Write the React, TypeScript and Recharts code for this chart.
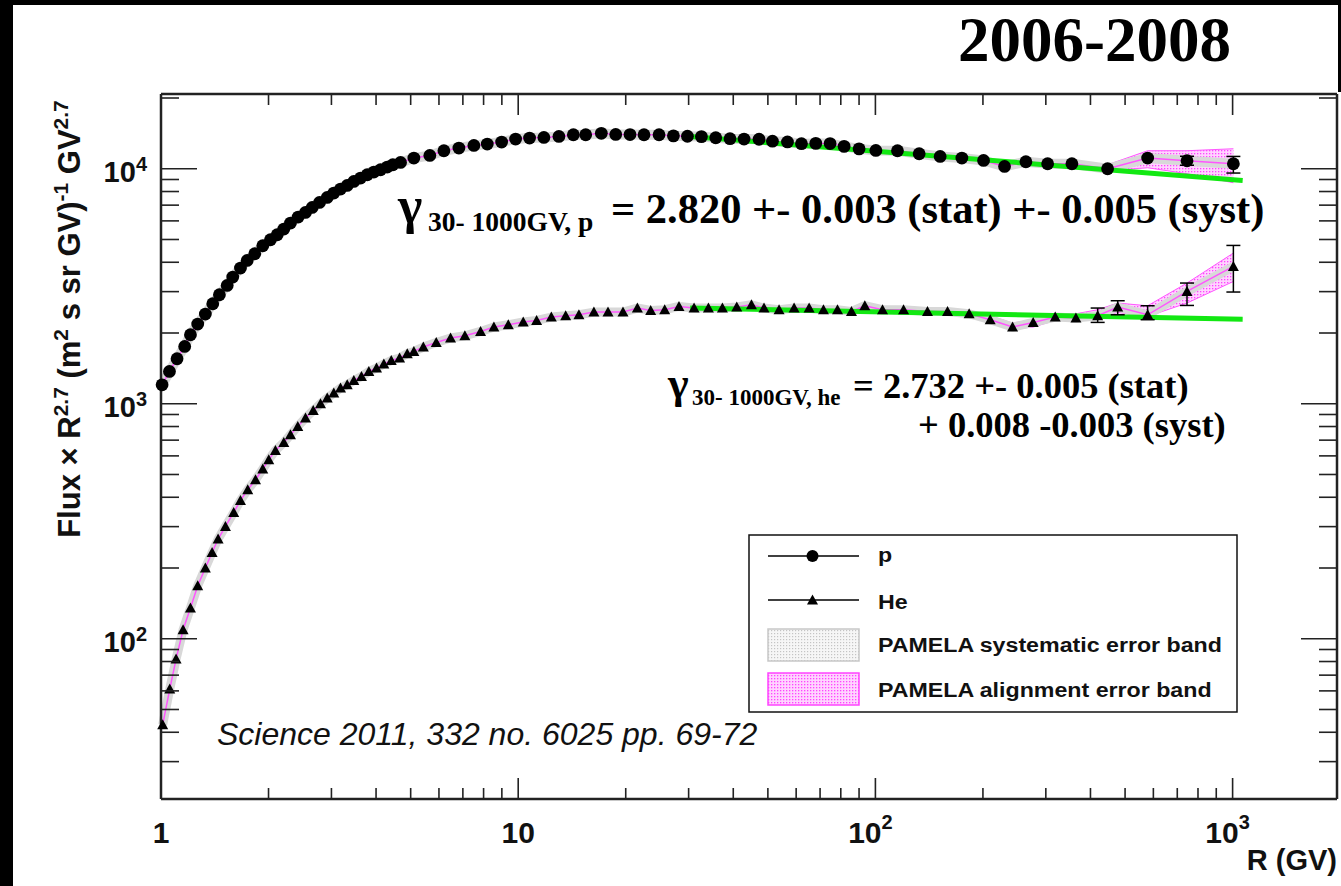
import React from "react";
import { ComposedChart, Line, Area, XAxis, YAxis, ErrorBar } from "recharts";

const W = 1341;
const H = 886;
const X_DOMAIN = [1, 1960];
const Y_DOMAIN = [20.8, 20800];

const X_TICKS = [1, 2, 3, 4, 5, 6, 7, 8, 9, 10, 20, 30, 40, 50, 60, 70, 80, 90, 100, 200, 300, 400, 500, 600, 700, 800, 900, 1000];
const X_MAJOR = [1, 10, 100, 1000];
const X_LABEL_BASE = ["1", "10", "10", "10"];
const X_LABEL_EXP = ["", "", "2", "3"];

const Y_TICKS = [30, 40, 50, 60, 70, 80, 90, 100, 200, 300, 400, 500, 600, 700, 800, 900, 1000, 2000, 3000, 4000, 5000, 6000, 7000, 8000, 9000, 10000, 20000];
const Y_MAJOR = [100, 1000, 10000];
const Y_LABEL_EXP = ["2", "3", "4"];

// protons
const P_R = [1.007, 1.056, 1.109, 1.165, 1.209, 1.267, 1.331, 1.396, 1.457, 1.532, 1.588, 1.669, 1.743, 1.83, 1.927, 2.025, 2.115, 2.207, 2.304, 2.421, 2.538, 2.65, 2.778, 2.92, 3.046, 3.181, 3.321, 3.466, 3.619, 3.779, 3.943, 4.117, 4.298, 4.457, 4.684, 5.104, 5.657, 6.194, 6.823, 7.515, 8.192, 8.987, 9.833, 10.76, 11.8, 13.0, 14.27, 15.45, 17.09, 18.75, 20.56, 22.5, 24.79, 27.2, 29.77, 32.58, 35.73, 39.17, 42.88, 47.23, 51.5, 56.73, 62.09, 68.09, 74.67, 81.73, 90.01, 100.3, 115.3, 132.6, 151.8, 174.6, 200.8, 229.9, 263.8, 303.5, 354.9, 446.7, 578.3, 745.3, 1005];
const P_FLUX = [1204, 1372, 1554, 1753, 1966, 2183, 2408, 2664, 2910, 3187, 3461, 3780, 4072, 4347, 4702, 4988, 5237, 5538, 5873, 6228, 6516, 6843, 7187, 7548, 7880, 8196, 8490, 8831, 9129, 9430, 9683, 9902, 10167, 10399, 10636, 11103, 11392, 11930, 12250, 12566, 12740, 12992, 13379, 13510, 13591, 13724, 13953, 13950, 14150, 14000, 13980, 13950, 13950, 13800, 13750, 13700, 13550, 13420, 13380, 13350, 13100, 13000, 12780, 12820, 12800, 12450, 12150, 11966, 11930, 11584, 11282, 11103, 10846, 10228, 10710, 10503, 10503, 10000, 11103, 10814, 10503];

// helium
const HE_R = [1.011, 1.058, 1.102, 1.153, 1.209, 1.267, 1.331, 1.39, 1.445, 1.515, 1.598, 1.669, 1.749, 1.839, 1.927, 2.003, 2.091, 2.207, 2.304, 2.415, 2.538, 2.668, 2.796, 2.92, 3.046, 3.181, 3.321, 3.466, 3.641, 3.818, 4.012, 4.206, 4.412, 4.655, 4.891, 5.104, 5.425, 5.896, 6.465, 7.091, 7.846, 8.55, 9.382, 10.33, 11.26, 12.38, 13.58, 14.79, 16.29, 17.84, 19.65, 21.56, 23.49, 25.71, 28.19, 31.07, 34.08, 37.3, 40.91, 44.98, 48.77, 53.74, 59.21, 65.23, 71.55, 78.32, 85.71, 93.4, 104.7, 119.9, 139.9, 159.2, 183.0, 209.6, 242.1, 276.5, 318.7, 364.2, 419.0, 476.8, 578.3, 745.3, 1005];
const HE_FLUX = [43.1, 61.1, 81.9, 109.2, 135.1, 168.1, 199.9, 232.9, 265.7, 300.6, 344.8, 387.7, 430.5, 474.9, 527.4, 577.8, 632.9, 684.4, 738.1, 800.9, 869.4, 935, 1000, 1058, 1110, 1166, 1205, 1257, 1307, 1372, 1419, 1475, 1529, 1565, 1633, 1670, 1743, 1823, 1904, 1947, 2031, 2120, 2169, 2227, 2262, 2338, 2368, 2391, 2455, 2455, 2455, 2554, 2495, 2512, 2594, 2554, 2554, 2554, 2579, 2638, 2554, 2512, 2554, 2554, 2512, 2512, 2471, 2612, 2512, 2512, 2471, 2471, 2415, 2278, 2120, 2218, 2338, 2315, 2368, 2579, 2391, 3006, 3839];

// error bars (low / high ends)
const P_ERR_R = [745.3, 1005];
const P_ERR_LO = [10350, 9587];
const P_ERR_HI = [11300, 11282];
const HE_ERR_R = [419.0, 476.8, 578.3, 745.3, 1005];
const HE_ERR_LO = [2219, 2391, 2278, 2620, 2988];
const HE_ERR_HI = [2554, 2744, 2612, 3263, 4717];

// alignment error band (pink)
const P_BAND_R = [200.8, 229.9, 263.8, 303.5, 354.9, 446.7, 578.3, 745.3, 1005];
const P_BAND_LO = [10600, 10000, 10300, 10200, 10197, 9806, 10099, 9522, 8717];
const P_BAND_HI = [11100, 10550, 10950, 10710, 10710, 10399, 11930, 11930, 12164];
const HE_BAND_R = [183.0, 209.6, 242.1, 276.5, 318.7, 364.2, 419.0, 476.8, 578.3, 745.3, 1005];
const HE_BAND_LO = [2345, 2219, 2079, 2120, 2262, 2262, 2315, 2446, 2352, 2682, 3314];
const HE_BAND_HI = [2487, 2368, 2205, 2278, 2391, 2415, 2512, 2682, 2612, 3263, 4378];

// power law fits 30-1000 GV
const P_FIT_R = [30.3, 1067];
const P_FIT_FLUX = [13720, 8915];
const HE_FIT_R = [30.3, 1067];
const HE_FIT_FLUX = [2553, 2290];

const pData = P_R.map((r, i) => ({ r, flux: P_FLUX[i] }));
const heData = HE_R.map((r, i) => ({ r, flux: HE_FLUX[i] }));
const pErr = P_ERR_R.map((r, i) => {
  const f = P_FLUX[P_R.indexOf(r)];
  return { r, flux: f, err: [f - P_ERR_LO[i], P_ERR_HI[i] - f] };
});
const heErr = HE_ERR_R.map((r, i) => {
  const f = HE_FLUX[HE_R.indexOf(r)];
  return { r, flux: f, err: [f - HE_ERR_LO[i], HE_ERR_HI[i] - f] };
});
const pBand = P_BAND_R.map((r, i) => ({ r, range: [P_BAND_LO[i], P_BAND_HI[i]] }));
const heBand = HE_BAND_R.map((r, i) => ({ r, range: [HE_BAND_LO[i], HE_BAND_HI[i]] }));
const pFit = P_FIT_R.map((r, i) => ({ r, flux: P_FIT_FLUX[i] }));
const heFit = HE_FIT_R.map((r, i) => ({ r, flux: HE_FIT_FLUX[i] }));

const FRAME = "#222";
const SANS = "'Liberation Sans', Arial, sans-serif";
const SERIF = "'Liberation Serif', 'Times New Roman', serif";
const AXIS = { stroke: FRAME, strokeWidth: 2.5 };

function BottomTick(p: any) {
  const i = X_MAJOR.indexOf(p.payload.value);
  const major = i >= 0;
  return (
    <g>
      <line x1={p.x} x2={p.x} y1={p.y} y2={p.y - (major ? 21 : 11)} stroke={FRAME} strokeWidth={1.6} />
      {major && (
        <text x={p.x + (X_LABEL_EXP[i] ? -5 : 0)} y={843} textAnchor="middle" fontFamily={SANS} fontWeight="bold" fontSize={30} fill="#111">
          {X_LABEL_BASE[i]}
          {X_LABEL_EXP[i] && (
            <tspan dy={-14} fontSize={20}>
              {X_LABEL_EXP[i]}
            </tspan>
          )}
        </text>
      )}
    </g>
  );
}

function TopTick(p: any) {
  const major = X_MAJOR.includes(p.payload.value);
  return <line x1={p.x} x2={p.x} y1={p.y} y2={p.y + (major ? 21 : 11)} stroke={FRAME} strokeWidth={1.6} />;
}

function LeftTick(p: any) {
  const i = Y_MAJOR.indexOf(p.payload.value);
  const major = i >= 0;
  return (
    <g>
      <line x1={p.x} x2={p.x + (major ? 36 : 18)} y1={p.y} y2={p.y} stroke={FRAME} strokeWidth={1.6} />
      {major && (
        <text x={147} y={p.y + 13} textAnchor="end" fontFamily={SANS} fontWeight="bold" fontSize={29} fill="#111">
          10
          <tspan dy={-11} fontSize={20}>
            {Y_LABEL_EXP[i]}
          </tspan>
        </text>
      )}
    </g>
  );
}

function RightTick(p: any) {
  const major = Y_MAJOR.includes(p.payload.value);
  return <line x1={p.x} x2={p.x - (major ? 36 : 18)} y1={p.y} y2={p.y} stroke={FRAME} strokeWidth={1.6} />;
}

function Circle(p: any) {
  if (p.cx == null || p.cy == null) return <g key={`c${p.index}`} />;
  return <circle key={`c${p.index}`} cx={p.cx} cy={p.cy} r={6.4} fill="#000" />;
}

function Tri(p: any) {
  if (p.cx == null || p.cy == null) return <g key={`t${p.index}`} />;
  const { cx, cy } = p;
  return <polygon key={`t${p.index}`} points={`${cx - 5.5},${cy + 4.5} ${cx + 5.5},${cy + 4.5} ${cx},${cy - 5.5}`} fill="#000" />;
}

const axisIds = { xAxisId: "b", yAxisId: "l" };

export default function App() {
  return (
    <div style={{ position: "relative", width: W, height: H, background: "#fff", overflow: "hidden" }}>
      <style>{"body{margin:0}"}</style>
      <div style={{ position: "absolute", left: 0, top: 0, width: 13, height: H, background: "#000" }} />
      <div style={{ position: "absolute", left: 0, top: 0, width: W, height: 5, background: "#000" }} />
      <div style={{ position: "absolute", left: 1338, top: 0, width: 3, height: 92, background: "#000" }} />

      <svg width={0} height={0} style={{ position: "absolute" }}>
        <defs>
          <pattern id="pinkDots" width="3" height="3" patternUnits="userSpaceOnUse">
            <rect width="3" height="3" fill="#ffd4ff" />
            <rect width="1.3" height="1.3" fill="#ff44ff" />
          </pattern>
          <pattern id="greyDots" width="3" height="3" patternUnits="userSpaceOnUse">
            <rect width="3" height="3" fill="#f6f6f6" />
            <rect width="1.2" height="1.2" fill="#c4c4c4" />
          </pattern>
        </defs>
      </svg>

      <div style={{ position: "absolute", left: 0, top: 0 }}>
        <ComposedChart width={W} height={H} margin={{ top: 93, right: 3, bottom: 0, left: 160 }}>
          <XAxis xAxisId="b" dataKey="r" type="number" scale="log" domain={X_DOMAIN} ticks={X_TICKS} interval={0} height={87} tickSize={0} tickMargin={0} tickLine={false} axisLine={AXIS} tick={BottomTick} />
          <XAxis xAxisId="t" orientation="top" dataKey="r" type="number" scale="log" domain={X_DOMAIN} ticks={X_TICKS} interval={0} height={1} tickSize={0} tickMargin={0} tickLine={false} axisLine={AXIS} tick={TopTick} />
          <YAxis yAxisId="l" type="number" scale="log" domain={Y_DOMAIN} ticks={Y_TICKS} interval={0} width={1} tickSize={0} tickMargin={0} tickLine={false} axisLine={AXIS} tick={LeftTick} />
          <YAxis yAxisId="r" orientation="right" type="number" scale="log" domain={Y_DOMAIN} ticks={Y_TICKS} interval={0} width={1} tickSize={0} tickMargin={0} tickLine={false} axisLine={AXIS} tick={RightTick} />

          {/* keeps the top and right frame axes bound to a series */}
          <Line xAxisId="t" yAxisId="r" data={pFit} dataKey="flux" stroke="none" dot={false} activeDot={false} isAnimationActive={false} />

          {/* systematic band, drawn as a light halo along the data */}
          <Line {...axisIds} data={pData} dataKey="flux" stroke="#d8d8d8" strokeWidth={10} strokeLinejoin="round" dot={false} activeDot={false} isAnimationActive={false} />
          <Line {...axisIds} data={heData} dataKey="flux" stroke="#d8d8d8" strokeWidth={9} strokeLinejoin="round" dot={false} activeDot={false} isAnimationActive={false} />

          <Area {...axisIds} data={pBand} dataKey="range" type="linear" stroke="#ff55ff" strokeWidth={1} fill="url(#pinkDots)" fillOpacity={1} isAnimationActive={false} />
          <Area {...axisIds} data={heBand} dataKey="range" type="linear" stroke="#ff55ff" strokeWidth={1} fill="url(#pinkDots)" fillOpacity={1} isAnimationActive={false} />

          <Line {...axisIds} data={pData} dataKey="flux" stroke="#ff55ff" strokeWidth={1.5} dot={false} activeDot={false} isAnimationActive={false} />
          <Line {...axisIds} data={heData} dataKey="flux" stroke="#ff55ff" strokeWidth={1.5} dot={false} activeDot={false} isAnimationActive={false} />

          <Line {...axisIds} data={pFit} dataKey="flux" stroke="#12e812" strokeWidth={5} dot={false} activeDot={false} isAnimationActive={false} />
          <Line {...axisIds} data={heFit} dataKey="flux" stroke="#12e812" strokeWidth={5} dot={false} activeDot={false} isAnimationActive={false} />

          <Line {...axisIds} data={pErr} dataKey="flux" stroke="none" dot={false} activeDot={false} isAnimationActive={false}>
            <ErrorBar dataKey="err" width={7} stroke="#000" strokeWidth={1.5} direction="y" />
          </Line>
          <Line {...axisIds} data={heErr} dataKey="flux" stroke="none" dot={false} activeDot={false} isAnimationActive={false}>
            <ErrorBar dataKey="err" width={7} stroke="#000" strokeWidth={1.5} direction="y" />
          </Line>

          <Line {...axisIds} data={pData} dataKey="flux" stroke="none" dot={Circle} activeDot={false} isAnimationActive={false} />
          <Line {...axisIds} data={heData} dataKey="flux" stroke="none" dot={Tri} activeDot={false} isAnimationActive={false} />
        </ComposedChart>
      </div>

      <svg width={W} height={H} style={{ position: "absolute", left: 0, top: 0, pointerEvents: "none" }}>
        <text x={958} y={61} fontFamily={SERIF} fontWeight="bold" fontSize={63} fill="#000">
          2006-2008
        </text>

        <text transform="translate(80,319) rotate(-90)" textAnchor="middle" fontFamily={SANS} fontWeight="bold" fontSize={31} fill="#111">
          Flux × R<tspan dy={-12} fontSize={21}>2.7</tspan>
          <tspan dy={12}> (m</tspan>
          <tspan dy={-12} fontSize={21}>2</tspan>
          <tspan dy={12}> s sr GV)</tspan>
          <tspan dy={-12} fontSize={21}>-1</tspan>
          <tspan dy={12}> GV</tspan>
          <tspan dy={-12} fontSize={21}>2.7</tspan>
        </text>

        <text x={1337} y={870} textAnchor="end" fontFamily={SANS} fontWeight="bold" fontSize={29} fill="#111">
          R (GV)
        </text>

        <text fontFamily={SERIF} fontWeight="bold" fill="#000">
          <tspan x={398} y={223} fontSize={52}>γ</tspan>
          <tspan x={428} y={231} fontSize={27.5}>30- 1000GV, p</tspan>
          <tspan x={611} y={223} fontSize={42.5}>= 2.820 +- 0.003 (stat) +- 0.005 (syst)</tspan>
        </text>

        <text fontFamily={SERIF} fontWeight="bold" fill="#000">
          <tspan x={668} y={398} fontSize={44}>γ</tspan>
          <tspan x={692} y={405} fontSize={23}>30- 1000GV, he</tspan>
          <tspan x={853} y={398} fontSize={36.5}>= 2.732 +- 0.005 (stat)</tspan>
          <tspan x={918} y={437} fontSize={36.5}>+ 0.008 -0.003 (syst)</tspan>
        </text>

        <text x={217} y={745} fontFamily={SANS} fontStyle="italic" fontSize={32} fill="#111">
          Science 2011, 332 no. 6025 pp. 69-72
        </text>

        {/* legend */}
        <rect x={749} y={535} width={488} height={177} fill="#fff" stroke="#111" strokeWidth={1.5} />
        <line x1={768} x2={859} y1={556} y2={556} stroke="#000" strokeWidth={1.5} />
        <circle cx={812.5} cy={556} r={6} fill="#000" />
        <line x1={768} x2={859} y1={600} y2={600} stroke="#000" strokeWidth={1.5} />
        <polygon points="807,604.5 818,604.5 812.5,594.5" fill="#000" />
        <rect x={768} y={629} width={91} height={32} fill="url(#greyDots)" stroke="#c8c8c8" strokeWidth={1.5} />
        <rect x={768} y={673} width={91} height={32} fill="url(#pinkDots)" stroke="#ff44ff" strokeWidth={1.5} />
        <g fontFamily={SANS} fontWeight="bold" fontSize={20} fill="#111">
          <text transform="translate(878,562) scale(1.16,1)">p</text>
          <text transform="translate(878,609) scale(1.16,1)">He</text>
          <text transform="translate(878,652) scale(1.16,1)">PAMELA systematic error band</text>
          <text transform="translate(878,697) scale(1.16,1)">PAMELA alignment error band</text>
        </g>
      </svg>
    </div>
  );
}
